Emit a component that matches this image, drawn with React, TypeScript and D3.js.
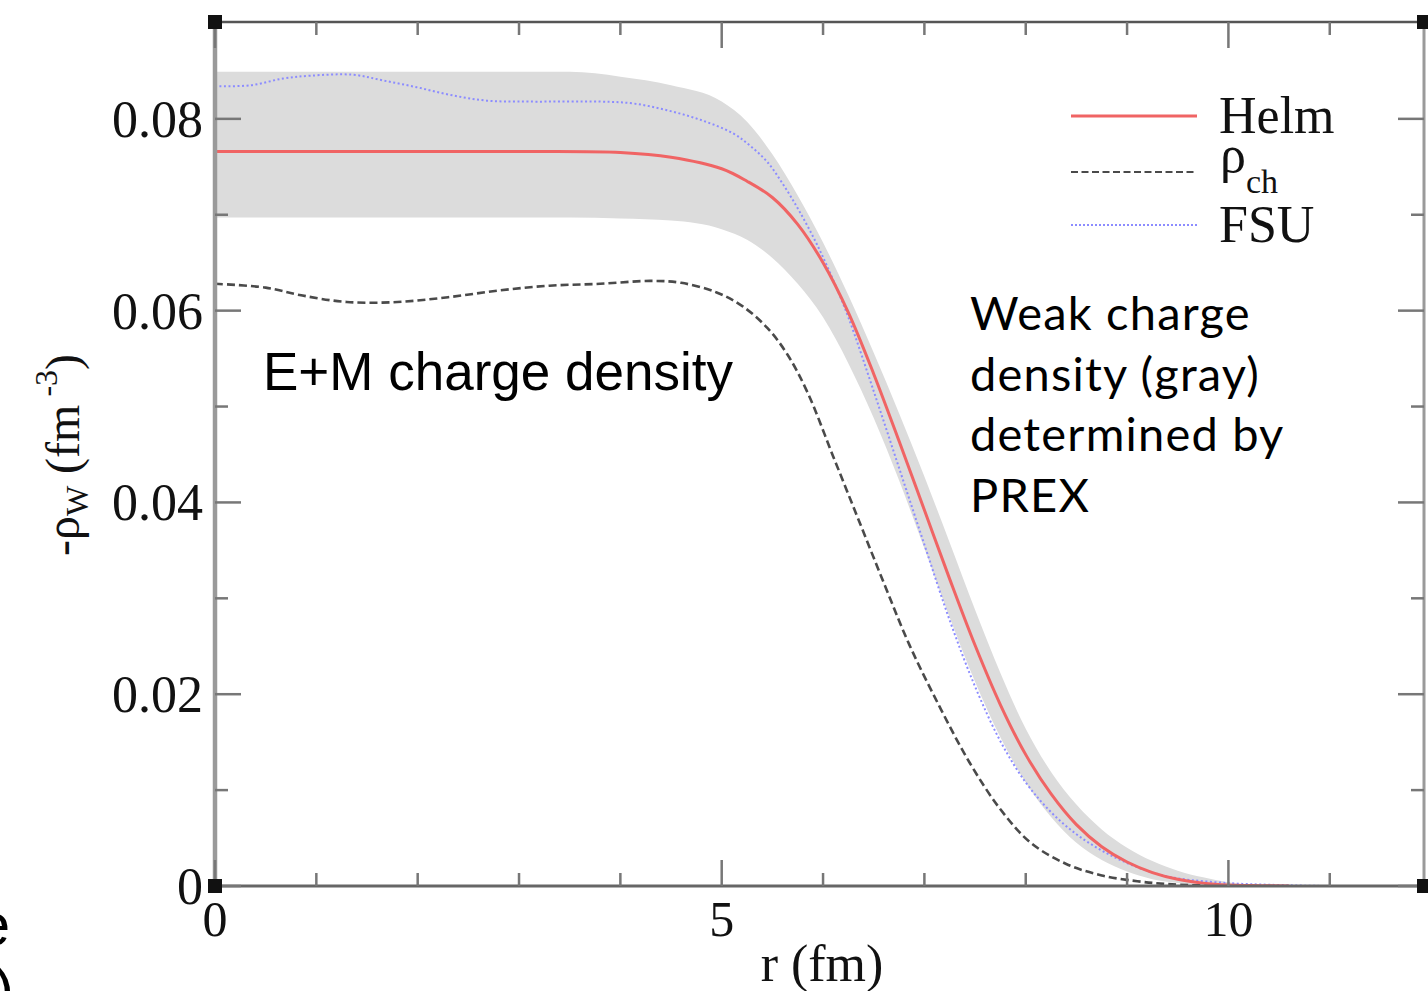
import React from "react";
import * as d3 from "d3";

// ---- data ----
const helmR = [0, 1, 2, 3, 4, 4.5, 5, 5.25, 5.5, 5.75, 6, 6.25, 6.5, 6.75, 7, 7.25, 7.5, 7.75, 8, 8.25, 8.5, 8.75, 9, 9.25, 9.5, 9.75, 10, 10.3, 10.6];
const helmRho = [0.0766, 0.0766, 0.0766, 0.0766, 0.0765, 0.076, 0.0748, 0.0735, 0.0718, 0.069, 0.065, 0.0598, 0.0534, 0.0464, 0.0392, 0.032, 0.0251, 0.0189, 0.0137, 0.0096, 0.0064, 0.0041, 0.0025, 0.0014, 0.0007, 0.0003, 0.0001, 0.00003, 0];

const bandR = [0, 3.5, 4, 4.5, 5, 5.25, 5.5, 5.75, 6, 6.25, 6.5, 6.75, 7, 7.25, 7.5, 7.75, 8, 8.25, 8.5, 8.75, 9, 9.25, 9.5, 9.75, 10, 10.25, 10.5];
const bandHi = [0.0849, 0.0849, 0.0844, 0.0835, 0.0818, 0.0797, 0.0763, 0.072, 0.0671, 0.0616, 0.0556, 0.0493, 0.0427, 0.0358, 0.0288, 0.0222, 0.0164, 0.0119, 0.0085, 0.0059, 0.004, 0.0026, 0.0016, 0.0009, 0.0004, 0.0001, 0];
const bandLo = [0.0697, 0.0697, 0.0696, 0.0694, 0.0685, 0.0674, 0.0655, 0.0628, 0.0593, 0.0545, 0.0488, 0.0423, 0.0352, 0.028, 0.0213, 0.0155, 0.0108, 0.0072, 0.0045, 0.0027, 0.0015, 0.0007, 0.0003, 0.0001, 0, 0, 0];

const fsuR = [0, 0.35, 0.67, 0.94, 1.36, 1.66, 1.99, 2.32, 2.68, 3.1, 3.8, 4.13, 4.46, 4.79, 5.11, 5.28, 5.45, 5.61, 5.77, 5.94, 6.1, 6.25, 6.5, 6.75, 7, 7.25, 7.5, 7.75, 8, 8.25, 8.5, 8.75, 9, 9.25, 9.5, 10, 10.5, 11, 11.93];
const fsuRho = [0.0834, 0.0835, 0.0842, 0.0845, 0.0846, 0.084, 0.0833, 0.0825, 0.0819, 0.0818, 0.0818, 0.0816, 0.0809, 0.0799, 0.0785, 0.0772, 0.0755, 0.0731, 0.0703, 0.0669, 0.0632, 0.0593, 0.0516, 0.0436, 0.0356, 0.0277, 0.0208, 0.0151, 0.0108, 0.0077, 0.0054, 0.0037, 0.0024, 0.0014, 0.0008, 0.0003, 0.0001, 0, 0];

const chR = [0, 0.5, 0.85, 1.3, 1.8, 2.3, 2.8, 3.3, 3.8, 4.3, 4.6, 4.95, 5.2, 5.45, 5.65, 5.85, 6.1, 6.35, 6.6, 6.85, 7.15, 7.45, 7.75, 8.05, 8.4, 8.75, 9.1, 9.4, 10, 10.5];
const chRho = [0.0628, 0.0624, 0.0616, 0.0609, 0.0609, 0.0614, 0.0621, 0.0626, 0.0628, 0.0631, 0.0629, 0.0619, 0.0605, 0.0582, 0.0554, 0.0514, 0.0448, 0.0382, 0.0316, 0.0252, 0.0187, 0.0128, 0.008, 0.0045, 0.0023, 0.0011, 0.0005, 0.0002, 0, 0];

const xMajorTicks = [0, 5, 10];
const xMinorTicks = [1, 2, 3, 4, 6, 7, 8, 9, 11];
const yMajorTicks = [0, 0.02, 0.04, 0.06, 0.08];
const yMinorTicks = [0.01, 0.03, 0.05, 0.07];
const yTickLabels = ["0", "0.02", "0.04", "0.06", "0.08"];

const legendItems = ["Helm", "ρ", "FSU"];
const weakNote = ["Weak charge", "density (gray)", "determined by", "PREX"];

const W = 1428;
const H = 991;
const serif = "'Liberation Serif', 'Times New Roman', serif";

export default function App() {
  const x = d3.scaleLinear().domain([0, 11.93]).range([215, 1424]);
  const y = d3.scaleLinear().domain([0, 0.0901]).range([886, 22]);
  const [x0, x1] = x.range();
  const [y0, y1] = y.range();

  const curve = d3.curveCatmullRom.alpha(0.5);
  const toPts = (rs: number[], vs: number[]) => rs.map((r, i) => [r, vs[i]] as [number, number]);
  const line = d3
    .line<[number, number]>()
    .x((d) => x(d[0]))
    .y((d) => y(d[1]))
    .curve(curve);
  const area = d3
    .area<number>()
    .x((_, i) => x(bandR[i]))
    .y0((_, i) => y(bandLo[i]))
    .y1((_, i) => y(bandHi[i]))
    .curve(d3.curveMonotoneX);

  const tickColor = "#777";

  return (
    <svg
      width={W}
      height={H}
      style={{ position: "absolute", left: 0, top: 0, background: "#fff" }}
    >
      <rect x={0} y={0} width={W} height={H} fill="#fff" />
      <defs>
        <clipPath id="plotclip">
          <rect x={x0} y={y1} width={x1 - x0} height={y0 - y1} />
        </clipPath>
      </defs>

      {/* band */}
      <path d={area(bandR) || ""} fill="#dcdcdc" stroke="none" clipPath="url(#plotclip)" />

      {/* curves */}
      <g clipPath="url(#plotclip)" fill="none">
        <path d={line(toPts(chR, chRho)) || ""} stroke="#4a4a4a" strokeWidth={2.6} strokeDasharray="8 4" />
        <path d={line(toPts(fsuR, fsuRho)) || ""} stroke="#8c8cff" strokeWidth={2} strokeDasharray="2 2.5" />
        <path d={line(toPts(helmR, helmRho)) || ""} stroke="#f06464" strokeWidth={3} />
      </g>

      {/* axes frame */}
      <line x1={x0} x2={x1} y1={y1} y2={y1} stroke="#555" strokeWidth={2.5} />
      <line x1={x0} x2={x1} y1={y0} y2={y0} stroke="#666" strokeWidth={3} />
      <line x1={x0} x2={x0} y1={y1} y2={y0} stroke="#9a9a9a" strokeWidth={4.5} />
      <line x1={x1} x2={x1} y1={y1} y2={y0} stroke="#9a9a9a" strokeWidth={3} />

      {/* x ticks */}
      {xMajorTicks.map((t) => (
        <g key={"xM" + t}>
          <line x1={x(t)} x2={x(t)} y1={y0} y2={y0 - 26} stroke={tickColor} strokeWidth={2.5} />
          <line x1={x(t)} x2={x(t)} y1={y1} y2={y1 + 26} stroke={tickColor} strokeWidth={2.5} />
          <text x={x(t)} y={936} textAnchor="middle" fontFamily={serif} fontSize={50} fill="#111">
            {t}
          </text>
        </g>
      ))}
      {xMinorTicks.map((t) => (
        <g key={"xm" + t}>
          <line x1={x(t)} x2={x(t)} y1={y0} y2={y0 - 13} stroke={tickColor} strokeWidth={2.5} />
          <line x1={x(t)} x2={x(t)} y1={y1} y2={y1 + 13} stroke={tickColor} strokeWidth={2.5} />
        </g>
      ))}

      {/* y ticks */}
      {yMajorTicks.map((t, i) => (
        <g key={"yM" + t}>
          <line x1={x0} x2={x0 + 26} y1={y(t)} y2={y(t)} stroke={tickColor} strokeWidth={2.5} />
          <line x1={x1} x2={x1 - 26} y1={y(t)} y2={y(t)} stroke={tickColor} strokeWidth={2.5} />
          <text x={203} y={y(t) + 18} textAnchor="end" fontFamily={serif} fontSize={52} fill="#111">
            {yTickLabels[i]}
          </text>
        </g>
      ))}
      {yMinorTicks.map((t) => (
        <g key={"ym" + t}>
          <line x1={x0} x2={x0 + 13} y1={y(t)} y2={y(t)} stroke={tickColor} strokeWidth={2.5} />
          <line x1={x1} x2={x1 - 13} y1={y(t)} y2={y(t)} stroke={tickColor} strokeWidth={2.5} />
        </g>
      ))}

      {/* corner squares */}
      {[
        [x0, y1],
        [x0, y0],
        [x1, y1],
        [x1, y0],
      ].map(([cx, cy], i) => (
        <rect key={"c" + i} x={cx - 7} y={cy - 7} width={14} height={14} fill="#111" />
      ))}

      {/* axis titles */}
      <text x={822} y={981} textAnchor="middle" fontFamily={serif} fontSize={52} fill="#111">
        r (fm)
      </text>
      <text
        transform="translate(79,455) rotate(-90)"
        textAnchor="middle"
        fontFamily={serif}
        fontSize={48}
        fill="#111"
      >
        -ρ
        <tspan fontSize={32} dy={9}>W</tspan>
        <tspan dy={-9}> (fm</tspan>
        <tspan fontSize={32} dy={-22}> -3</tspan>
        <tspan dy={22}>)</tspan>
      </text>

      {/* legend */}
      <line x1={1071} x2={1197} y1={116} y2={116} stroke="#f06464" strokeWidth={3} />
      <line x1={1071} x2={1197} y1={172} y2={172} stroke="#4a4a4a" strokeWidth={2.2} strokeDasharray="7 3.5" />
      <line x1={1071} x2={1197} y1={225} y2={225} stroke="#8c8cff" strokeWidth={2} strokeDasharray="2 2" />
      <text x={1219} y={133} fontFamily={serif} fontSize={52} fill="#111">
        {legendItems[0]}
      </text>
      <text x={1220} y={172} fontFamily={serif} fontSize={52} fill="#111">
        {legendItems[1]}
      </text>
      <text x={1246} y={193} fontFamily={serif} fontSize={34} fill="#111">
        ch
      </text>
      <text x={1219} y={242} fontFamily={serif} fontSize={52} fill="#111">
        {legendItems[2]}
      </text>

      {/* annotations */}
      <text x={263} y={390} fontFamily="'Liberation Sans', Arial, sans-serif" fontSize={53} fill="#000">
        E+M charge density
      </text>
      {weakNote.map((s, i) => (
        <text
          key={s}
          x={970}
          y={330 + i * 60.5}
          fontFamily="Lato, 'Open Sans', sans-serif"
          fontSize={47}
          letterSpacing={1.2}
          fill="#000"
        >
          {s}
        </text>
      ))}

      {/* partially visible slide text at the left edge */}
      <text x={10} y={945} textAnchor="end" fontFamily="'Liberation Sans', Arial, sans-serif" fontSize={60} fill="#000">
        e
      </text>
      <text x={14} y={1010} textAnchor="end" fontFamily="'Liberation Sans', Arial, sans-serif" fontSize={60} fill="#000">
        )
      </text>
    </svg>
  );
}
